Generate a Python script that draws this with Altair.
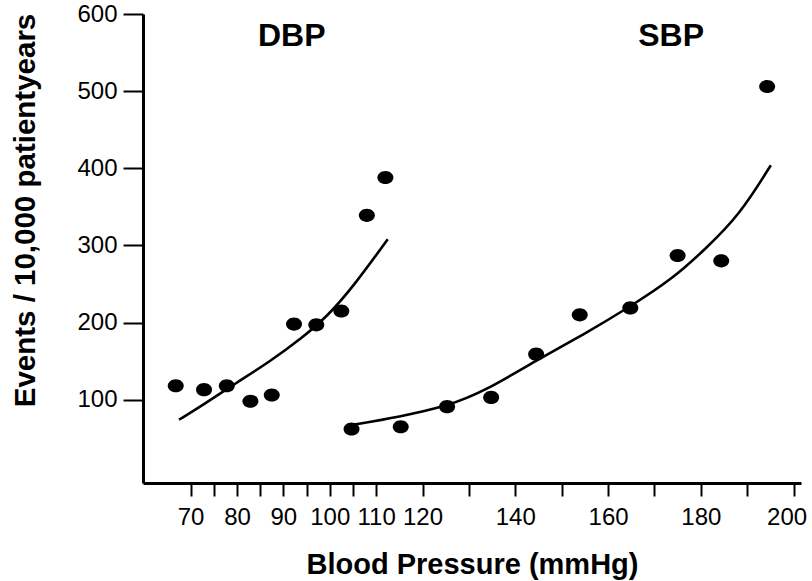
import altair as alt
import pandas as pd

# Observed points
dbp_x = [66.8, 72.9, 77.8, 82.9, 87.5, 92.3, 97.1, 102.5, 108.0, 112.0]
dbp_y = [118, 113, 118, 98, 106, 198, 197, 215, 339, 388]
sbp_x = [104.7, 115.3, 125.3, 134.8, 144.5, 153.9, 164.8, 175.0, 184.4, 194.3]
sbp_y = [62, 65, 91, 103, 159, 210, 219, 287, 280, 506]

# Fitted curves
dbp_fit_x = [67.5, 72.6, 79.9, 87.0, 94.2, 99.3, 105.0, 112.5]
dbp_fit_y = [74, 93, 122, 149, 181, 207, 246, 308]
sbp_fit_x = [104.6, 115.1, 125.1, 133.7, 144.5, 154.6, 164.6, 174.0, 181.1, 188.3, 195.1]
sbp_fit_y = [67, 78, 91, 112, 151, 184, 220, 257, 296, 339, 404]

# Annotations
label_text = ["DBP", "SBP"]
label_x = [91.8, 173.6]
label_y = [558, 558]

x_major = [70, 80, 90, 100, 110, 120, 140, 160, 180, 200]
x_minor = [75, 85, 95, 105, 130, 150, 170, 190]
y_ticks = [100, 200, 300, 400, 500, 600]

pts = pd.DataFrame({
    "bp": dbp_x + sbp_x,
    "events": dbp_y + sbp_y,
    "series": ["DBP"] * len(dbp_x) + ["SBP"] * len(sbp_x),
})
fit = pd.DataFrame({
    "bp": dbp_fit_x + sbp_fit_x,
    "events": dbp_fit_y + sbp_fit_y,
    "series": ["DBP"] * len(dbp_fit_x) + ["SBP"] * len(sbp_fit_x),
})
labels = pd.DataFrame({"text": label_text, "bp": label_x, "events": label_y})

TICK_FONT = "Liberation Sans, Arial, sans-serif"
TITLE_FONT = "Liberation Sans, Arial, sans-serif"

W, H = 658, 469

xscale = alt.Scale(domain=[59.74, 201.6], nice=False, zero=False)
yscale = alt.Scale(domain=[-8, 600], nice=False, zero=False)

x_major_axis = alt.Axis(
    orient="bottom",
    values=x_major,
    title="Blood Pressure (mmHg)",
    titleFont=TITLE_FONT,
    titleFontSize=29,
    titleFontWeight="bold",
    titleColor="black",
    titleBaseline="alphabetic",
    titleAlign="center",
    titleX=W / 2,
    titleY=90,
    labelFont=TICK_FONT,
    labelFontSize=24,
    labelColor="black",
    labelPadding=9,
    labelOverlap=False,
    labelFlush=False,
    labelOffset={"condition": {"test": "datum.value == 200", "value": -7}, "value": 0},
    tickSize=13,
    tickWidth=2,
    tickColor="black",
    domainColor="black",
    domainWidth=3,
    grid=False,
)
x_minor_axis = alt.Axis(
    orient="bottom",
    values=x_minor,
    title=None,
    labels=False,
    domain=False,
    tickSize=13,
    tickWidth=2,
    tickColor="black",
    grid=False,
)
y_axis = alt.Axis(
    values=y_ticks,
    title="Events / 10,000 patientyears",
    titleFont=TITLE_FONT,
    titleFontSize=29.5,
    titleFontWeight="bold",
    titleColor="black",
    titleAngle=270,
    titleBaseline="alphabetic",
    titleAlign="center",
    titleX=-109,
    titleY=196,
    labelFont=TICK_FONT,
    labelFontSize=24,
    labelColor="black",
    labelPadding=6,
    labelOverlap=False,
    labelFlush=False,
    tickSize=20,
    tickWidth=2,
    tickColor="black",
    domainColor="black",
    domainWidth=3,
    grid=False,
)

ellipse = "M -1 0 A 1 0.82 0 1 0 1 0 A 1 0.82 0 1 0 -1 0 Z"

points = alt.Chart(pts).mark_point(
    shape=ellipse, filled=True, size=256, color="black", opacity=1, strokeWidth=0
).encode(
    x=alt.X("bp:Q", scale=xscale, axis=x_major_axis),
    y=alt.Y("events:Q", scale=yscale, axis=y_axis),
)

lines = alt.Chart(fit).mark_line(
    color="black", strokeWidth=2.6, interpolate="basis"
).encode(
    x=alt.X("bp:Q", scale=xscale, axis=x_minor_axis),
    y=alt.Y("events:Q", scale=yscale),
    detail="series:N",
)

texts = alt.Chart(labels).mark_text(
    font=TITLE_FONT, fontSize=32, fontWeight="bold", color="black",
    align="center", baseline="alphabetic"
).encode(
    x=alt.X("bp:Q", scale=xscale, axis=None),
    y=alt.Y("events:Q", scale=yscale),
    text="text:N",
)

chart = alt.layer(points, lines, texts).resolve_axis(x="independent").properties(
    width=W,
    height=H,
    autosize=alt.AutoSizeParams(type="none"),
    padding={"left": 143, "top": 14, "right": 11, "bottom": 98},
    background="white",
).configure_view(stroke=None)

chart.save("out.html", embed_options={"renderer": "svg", "actions": False})
